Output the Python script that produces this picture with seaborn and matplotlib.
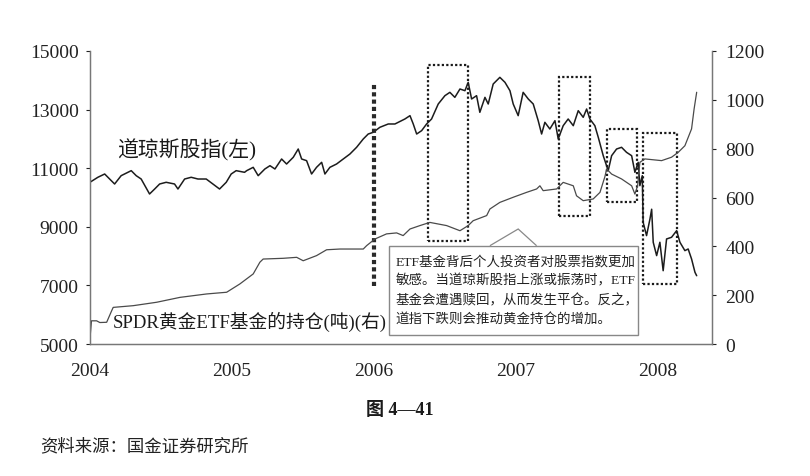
import matplotlib
matplotlib.use('Agg')
import matplotlib.pyplot as plt
import seaborn as sns
from matplotlib.patches import Rectangle, Polygon

sns.set_theme(style='white')
plt.rcParams['font.family'] = ['Liberation Serif', 'Noto Sans CJK SC']
plt.rcParams['axes.unicode_minus'] = False

# 道琼斯股指（左轴），按年份小数读图
dow_t = [2004.000, 2004.056, 2004.104, 2004.139, 2004.174, 2004.220, 2004.291, 2004.326,
         2004.361, 2004.420, 2004.456, 2004.491, 2004.537, 2004.596, 2004.620, 2004.667,
         2004.713, 2004.761, 2004.819, 2004.866, 2004.913, 2004.960, 2004.995, 2005.030,
         2005.089, 2005.104, 2005.150, 2005.185, 2005.232, 2005.268, 2005.303, 2005.350,
         2005.385, 2005.432, 2005.467, 2005.491, 2005.526, 2005.561, 2005.596, 2005.632,
         2005.655, 2005.690, 2005.737, 2005.784, 2005.831, 2005.878, 2005.925, 2005.960,
         2005.995, 2006.042, 2006.101, 2006.148, 2006.218, 2006.254, 2006.277, 2006.301,
         2006.336, 2006.371, 2006.406, 2006.453, 2006.500, 2006.535, 2006.570, 2006.606,
         2006.641, 2006.664, 2006.688, 2006.723, 2006.746, 2006.782, 2006.805, 2006.840,
         2006.887, 2006.923, 2006.958, 2006.981, 2007.016, 2007.051, 2007.087, 2007.122,
         2007.157, 2007.181, 2007.204, 2007.239, 2007.275, 2007.298, 2007.333, 2007.368,
         2007.404, 2007.439, 2007.474, 2007.498, 2007.521, 2007.556, 2007.580, 2007.615,
         2007.650, 2007.674, 2007.709, 2007.744, 2007.779, 2007.815, 2007.838, 2007.861,
         2007.873, 2007.890, 2007.896, 2007.920, 2007.944, 2007.956, 2007.967, 2007.991,
         2008.014, 2008.037, 2008.061, 2008.096, 2008.132, 2008.155, 2008.190, 2008.213,
         2008.237, 2008.261, 2008.273]
dow_v = [10519, 10690, 10802, 10631, 10461, 10745, 10916, 10745,
         10631, 10120, 10290, 10461, 10519, 10461, 10290, 10631,
         10690, 10631, 10631, 10461, 10290, 10519, 10802, 10916,
         10860, 10916, 11030, 10745, 10973, 11086, 10973, 11314,
         11143, 11372, 11655, 11314, 11257, 10802, 11030, 11201,
         10802, 11030, 11143, 11314, 11484, 11713, 11997, 12167,
         12224, 12396, 12509, 12509, 12679, 12793, 12509, 12167,
         12281, 12509, 12679, 13191, 13475, 13589, 13418, 13703,
         13645, 13930, 13362, 13475, 12907, 13418, 13191, 13873,
         14101, 13930, 13645, 13191, 12793, 13589, 13362, 13191,
         12622, 12167, 12566, 12338, 12622, 11997, 12451, 12679,
         12451, 12963, 12736, 13020, 12679, 12451, 12054, 11427,
         10916, 11427, 11655, 11713, 11542, 11427, 10860, 11201,
         10404, 10745, 9154, 8699, 9266, 9600, 8472, 8017,
         8472, 7502, 8585, 8642, 8869, 8472, 8187, 8243,
         7902, 7447, 7331]

# SPDR黄金ETF持仓（吨，右轴）
etf_t = [2004.000, 2004.011, 2004.047, 2004.070, 2004.118, 2004.153, 2004.164, 2004.305,
         2004.470, 2004.634, 2004.822, 2004.963, 2005.056, 2005.150, 2005.197, 2005.220,
         2005.361, 2005.456, 2005.502, 2005.596, 2005.667, 2005.761, 2005.925, 2005.949,
         2006.007, 2006.089, 2006.160, 2006.206, 2006.254, 2006.324, 2006.394, 2006.512,
         2006.606, 2006.664, 2006.699, 2006.794, 2006.817, 2006.887, 2006.981, 2007.075,
         2007.146, 2007.169, 2007.192, 2007.287, 2007.333, 2007.404, 2007.427, 2007.474,
         2007.544, 2007.592, 2007.627, 2007.639, 2007.674, 2007.744, 2007.815, 2007.838,
         2007.857, 2007.873, 2007.908, 2008.026, 2008.096, 2008.143, 2008.190, 2008.237,
         2008.255, 2008.273]
etf_v = [20, 95, 95, 88, 89, 136, 150, 157,
         171, 191, 205, 212, 246, 287, 335, 348,
         351, 355, 341, 362, 386, 389, 389, 403,
         430, 451, 455, 444, 471, 485, 498, 485,
         464, 485, 505, 526, 553, 580, 601, 621,
         635, 648, 628, 635, 662, 648, 607, 587,
         594, 621, 686, 717, 696, 676, 648, 614,
         648, 744, 758, 751, 765, 785, 812, 881,
         963, 1031]

# 虚线框（左轴坐标）: x0, x1, y0, y1
boxes = [(2006.382, 2006.664, 8526, 14522),
         (2007.303, 2007.521, 9379, 14103),
         (2007.639, 2007.854, 9857, 12338),
         (2007.896, 2008.136, 7048, 12201)]

note = ("ETF基金背后个人投资者对股票指数更加\n"
        "敏感。当道琼斯股指上涨或振荡时，ETF\n"
        "基金会遭遇赎回，从而发生平仓。反之，\n"
        "道指下跌则会推动黄金持仓的增加。")

fig = plt.figure(figsize=(8.1, 4.77), dpi=100)
ax = fig.add_axes([0.111, 0.2767, 0.7675, 0.6143])
ax2 = ax.twinx()

line_c = '#1c1c1c'
sns.lineplot(x=dow_t, y=dow_v, ax=ax, color=line_c, lw=1.1)
sns.lineplot(x=etf_t, y=etf_v, ax=ax2, color='#4a4a4a', lw=0.9)

ax.set_xlim(2004, 2008.378)
ax.set_ylim(5000, 15000)
ax2.set_ylim(0, 1200)
ax.set_xticks([2004, 2005, 2006, 2007, 2008])
ax.set_yticks(range(5000, 15001, 2000))
ax2.set_yticks(range(0, 1201, 200))

for a in (ax, ax2):
    for s in a.spines.values():
        s.set_color('#777777')
        s.set_linewidth(0.9)
    a.spines['top'].set_visible(False)
    a.tick_params(colors='#222222', labelsize=14, length=3, width=0.8)
ax.tick_params(axis='x', pad=10)
ax.tick_params(axis='y', pad=5)
ax2.tick_params(axis='y', pad=7)
ax.grid(False)
ax2.grid(False)

# 2006 年竖虚线
ax.plot([2006.0, 2006.0], [6990, 13874], color='#2a2a2a', lw=3,
        dashes=(1, 0.75), solid_capstyle='butt', zorder=5)

for x0, x1, y0, y1 in boxes:
    ax.add_patch(Rectangle((x0, y0), x1 - x0, y1 - y0, fill=False,
                           edgecolor='#1a1a1a', lw=1.6, linestyle=(0, (1, 1)), zorder=5))

# 说明框及指向三角
ax.add_patch(Rectangle((0.4814, 0.0307), 0.4005, 0.3048, transform=ax.transAxes,
                       facecolor='white', edgecolor='#888888', lw=1.0, zorder=6))
ax.add_patch(Polygon([(0.6434, 0.3355), (0.6889, 0.3925), (0.7185, 0.3355)],
                     closed=False, transform=ax.transAxes, facecolor='white',
                     edgecolor='#888888', lw=0.9, zorder=6))
ax.text(0.492, 0.184, note, transform=ax.transAxes, fontsize=9.7, color='#222222',
        va='center', ha='left', linespacing=1.62, zorder=7)

ax.text(0.0434, 0.6655, '道琼斯股指(左)', transform=ax.transAxes, fontsize=15,
        color='#1a1a1a', va='center', ha='left')
ax.text(0.037, 0.0785, 'SPDR黄金ETF基金的持仓(吨)(右)', transform=ax.transAxes,
        fontsize=13.5, color='#1a1a1a', va='center', ha='left')

fig.text(0.494, 0.14, '图 4—41', fontsize=13, fontweight='bold', ha='center',
         va='center', color='#1a1a1a')
fig.text(0.049, 0.063, '资料来源：国金证券研究所', fontsize=12.5, ha='left',
         va='center', color='#222222')

fig.savefig('out.png', dpi=100, facecolor='white')
